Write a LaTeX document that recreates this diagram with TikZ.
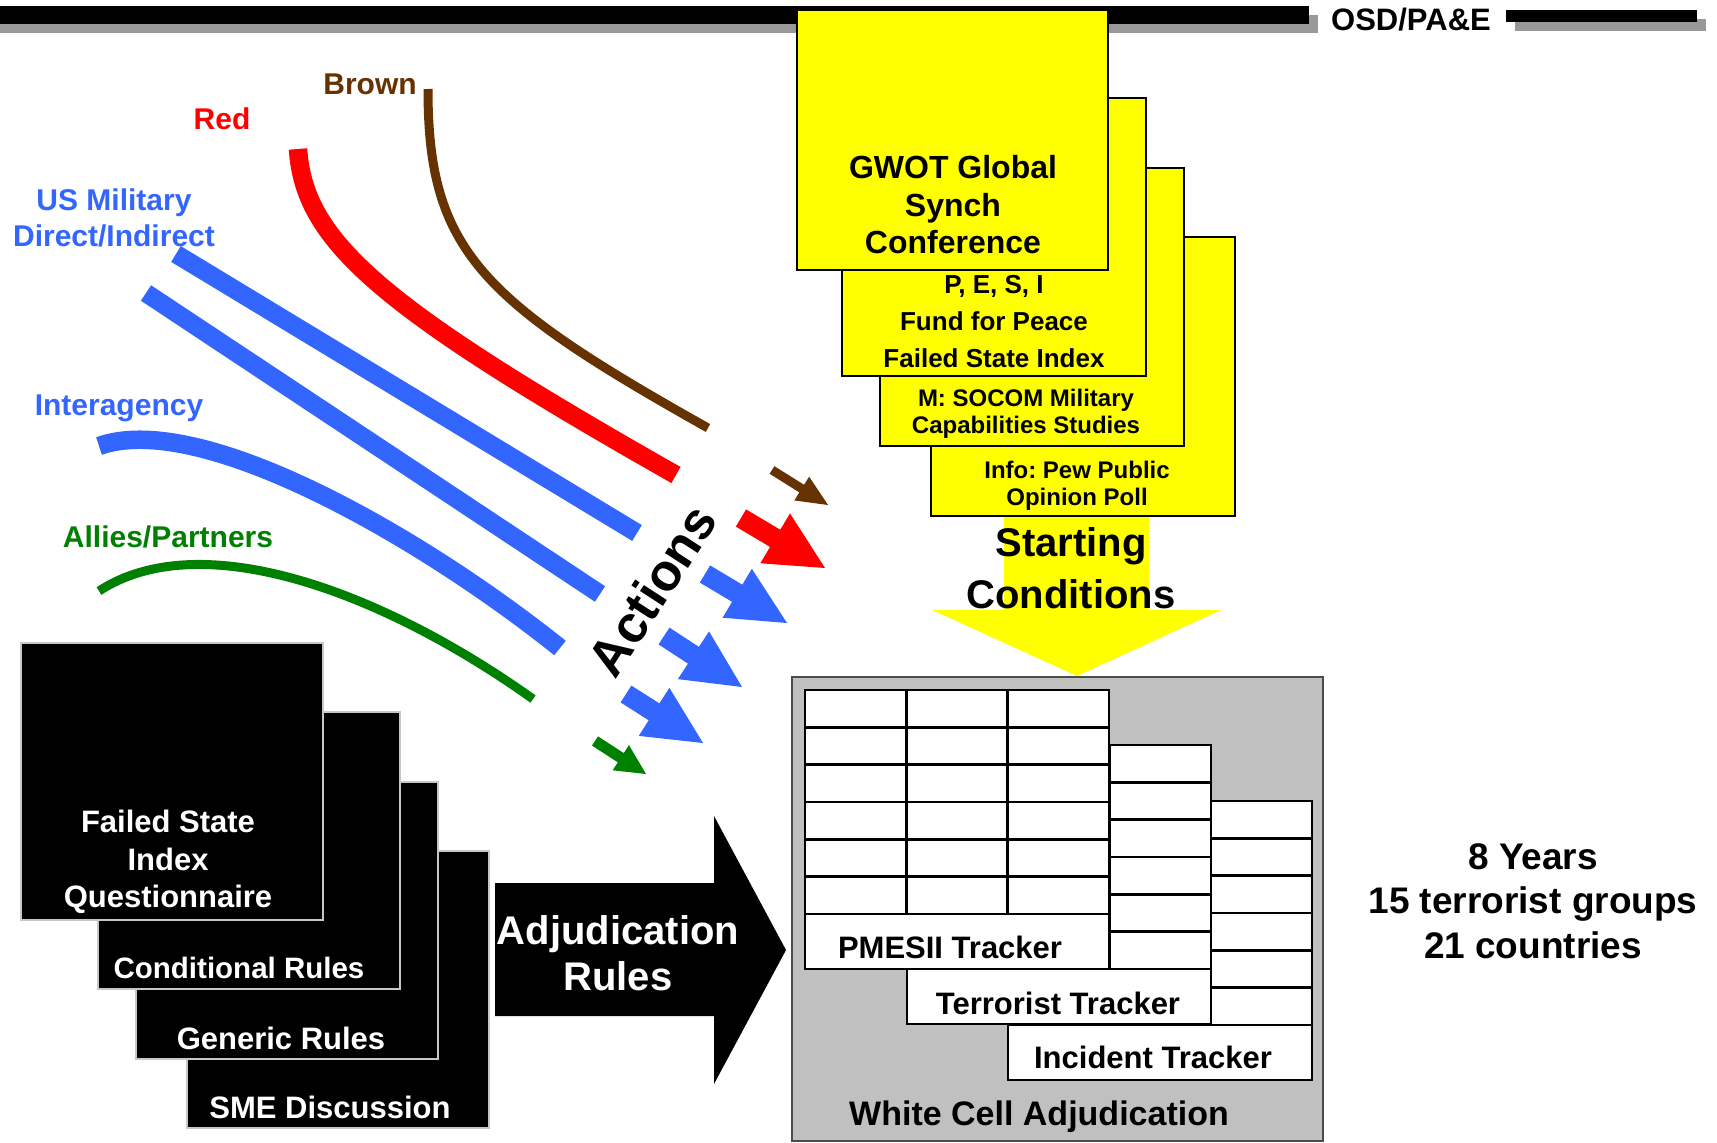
\documentclass[tikz,border=0pt]{standalone}
\usepackage{fontspec}
\setmainfont{Liberation Sans}
\usetikzlibrary{calc}
\frenchspacing
\definecolor{barGray}{RGB}{153,153,153}
\definecolor{actBrown}{RGB}{102,51,0}
\definecolor{actRed}{RGB}{255,0,0}
\definecolor{actBlue}{RGB}{51,102,255}
\definecolor{actGreen}{RGB}{0,128,0}
\definecolor{cellGray}{RGB}{192,192,192}
\definecolor{boxYellow}{RGB}{255,255,0}
\newcommand\bsz[2]{\bfseries\fontsize{#1}{#2}\selectfont}
% block arrow: colour, tail, tip, half shaft width, half head width, head length
\newcommand\blockarr[6]{%
  \coordinate (hb) at ($(#3)!#6!(#2)$);
  \fill[#1] ($(#2)!#4!90:(#3)$) -- ($(hb)!#4!90:(#3)$) -- ($(hb)!#5!90:(#3)$) -- (#3)
    -- ($(hb)!#5!-90:(#3)$) -- ($(hb)!#4!-90:(#3)$) -- ($(#2)!#4!-90:(#3)$) -- cycle;}
% tracker sheet: name, x and y of its top left corner
\newcommand\trackgrid[3]{%
  \node[tbox] (#1) at (#2,#3) {};
  \foreach \k in {1,...,6}
    \draw[tline] ($(#1.north west)+(0,\k*37.33)$) -- ++(304,0);
  \foreach \c in {1,2}
    \draw[tline] ($(#1.north west)+(\c*101.33,0)$) -- ++(0,224);
}
\begin{document}
\begin{tikzpicture}[x=1pt, y=-1pt,
  every node/.style={inner sep=0pt, outer sep=0pt},
  lbl/.style={font=\bsz{30}{36}, align=center},
  ybox/.style={draw=black, line width=1.5pt, fill=boxYellow, anchor=north west},
  kbox/.style={draw=black!22, line width=1.5pt, fill=black, anchor=north west,
               minimum width=302pt, minimum height=277pt},
  tbox/.style={draw=black, line width=2.4pt, fill=white, anchor=north west,
               minimum width=304pt, minimum height=279pt},
  tline/.style={draw=black, line width=2.4pt},
  wtxt/.style={text=white, align=center},
  thick action/.style={line width=18.5pt},
  thin action/.style={line width=9pt}]
\useasboundingbox (0,0) rectangle (1717,1143);
\fill[white] (0,0) rectangle (1717,1143);

% header bars
\fill[barGray] (0,15) rectangle (1318,33);
\fill[black] (0,6) rectangle (1309,24);
\fill[barGray] (1515,19) rectangle (1706,31);
\fill[black] (1506,10) rectangle (1697,22);
\node[font=\bsz{31}{36}] (osd) at (1411,20) {OSD/PA\&E};

% starting conditions stack
\node[ybox, minimum width=304pt, minimum height=279pt] (info) at (931,237) {};
\node[ybox, minimum width=304pt, minimum height=278pt] (socom) at (880,168) {};
\node[ybox, minimum width=304pt, minimum height=278pt] (pesi) at (842,98) {};
\node[ybox, minimum width=311pt, minimum height=260pt] (gwot) at (797,10) {};
\node[font=\bsz{32}{37.5}, align=center] (gwottxt) at (953,205) {GWOT Global\\Synch\\Conference};
\node[font=\bsz{26}{37}, align=center] (pesitxt) at (994,322) {P, E, S, I\\Fund for Peace\\Failed State Index};
\node[font=\bsz{24}{27.5}, align=center] (socomtxt) at (1026,414) {M: SOCOM Military\\Capabilities Studies};
\node[font=\bsz{24}{27.5}, align=center] (infotxt) at (1077,486) {Info: Pew Public\\Opinion Poll};

% white cell
\node[draw=black!70, line width=2pt, fill=cellGray, anchor=north west,
      minimum width=531pt, minimum height=464pt] (cell) at (792,677) {};
\trackgrid{incident}{1008}{801}
\trackgrid{terror}{907}{745}
\trackgrid{pmesii}{805}{690}
\node[font=\bsz{31}{36}] (pmtxt) at (950,947) {PMESII Tracker};
\node[font=\bsz{31}{36}] (tetxt) at (1058,1003) {Terrorist Tracker};
\node[font=\bsz{31}{36}] (intxt) at (1153,1057) {Incident Tracker};
\node[font=\bsz{34}{40}] (celltxt) at (1039,1117) {White Cell Adjudication};

% starting conditions arrow
\fill[boxYellow] (1004,517) -- (1149,517) -- (1149,610) -- (1221,610) -- (1077,676)
  -- (932,610) -- (1004,610) -- cycle;
\node[font=\bsz{40}{52}, align=center] (start) at (1071,568) {Starting\\Conditions};

% rule sources
\node[kbox] (sme) at (187,851) {};
\node[kbox] (generic) at (136,782) {};
\node[kbox] (cond) at (98,712) {};
\node[kbox] (fsi) at (21,643) {};
\node[wtxt, font=\bsz{31}{37.5}] (fsitxt) at (168,862) {Failed State\\Index\\Questionnaire};
\node[wtxt, font=\bsz{29.5}{36}] (condtxt) at (239,968) {Conditional Rules};
\node[wtxt, font=\bsz{31}{36}] (gentxt) at (281,1038) {Generic Rules};
\node[wtxt, font=\bsz{31}{36}] (smetxt) at (330,1107) {SME Discussion};

% adjudication arrow
\fill[black] (495,883) -- (714,883) -- (714,816) -- (786,950) -- (714,1084)
  -- (714,1016) -- (495,1016) -- cycle;
\node[wtxt, font=\bsz{40}{46}] (adjtxt) at (618,953) {Adjudication\\Rules};

% player actions
\draw[actBrown, thin action] (428,89) .. controls (428,250) and (480,300) .. (708,428);
\draw[actRed, thick action] (298,149) .. controls (304,240) and (376,305) .. (676,475);
\draw[actBlue, thick action] (176,254) -- (637,533);
\draw[actBlue, thick action] (146,293) -- (600,594);
\draw[actBlue, thick action] (99,446) .. controls (200,410) and (420,536) .. (560,648);
\draw[actGreen, thin action] (99,591) .. controls (200,525) and (380,590) .. (533,699);

\node[lbl, text=actBrown] (brownlbl) at (370,84) {Brown};
\node[lbl, text=actRed] (redlbl) at (222,119) {Red};
\node[lbl, text=actBlue] (uslbl) at (114,218) {US Military\\Direct/Indirect};
\node[lbl, text=actBlue] (intlbl) at (119,408) {Interagency};
\node[lbl, text=actGreen] (allylbl) at (168,537) {Allies/Partners};

\coordinate (brT) at (772,470); \coordinate (brH) at (828,505);
\coordinate (rdT) at (741,518); \coordinate (rdH) at (825,568);
\coordinate (b1T) at (705,574); \coordinate (b1H) at (787,623);
\coordinate (b2T) at (664,636); \coordinate (b2H) at (742,687);
\coordinate (b3T) at (626,694); \coordinate (b3H) at (703,743);
\coordinate (grT) at (595,741); \coordinate (grH) at (646,774);
\blockarr{actBrown}{brT}{brH}{4.5pt}{14pt}{31pt}
\blockarr{actRed}{rdT}{rdH}{10pt}{29pt}{58pt}
\blockarr{actBlue}{b1T}{b1H}{10pt}{28.5pt}{58pt}
\blockarr{actBlue}{b2T}{b2H}{10pt}{28.5pt}{58pt}
\blockarr{actBlue}{b3T}{b3H}{10pt}{28.5pt}{58pt}
\blockarr{actGreen}{grT}{grH}{5.5pt}{15pt}{30pt}
\node[rotate=57, font=\bsz{52}{60}] (actions) at (652,590) {Actions};

% scope of the run
\node[font=\bsz{37}{44.5}, align=center] (scope) at (1533,901) {8 Years\\15 terrorist groups\\21 countries};
\end{tikzpicture}
\end{document}
